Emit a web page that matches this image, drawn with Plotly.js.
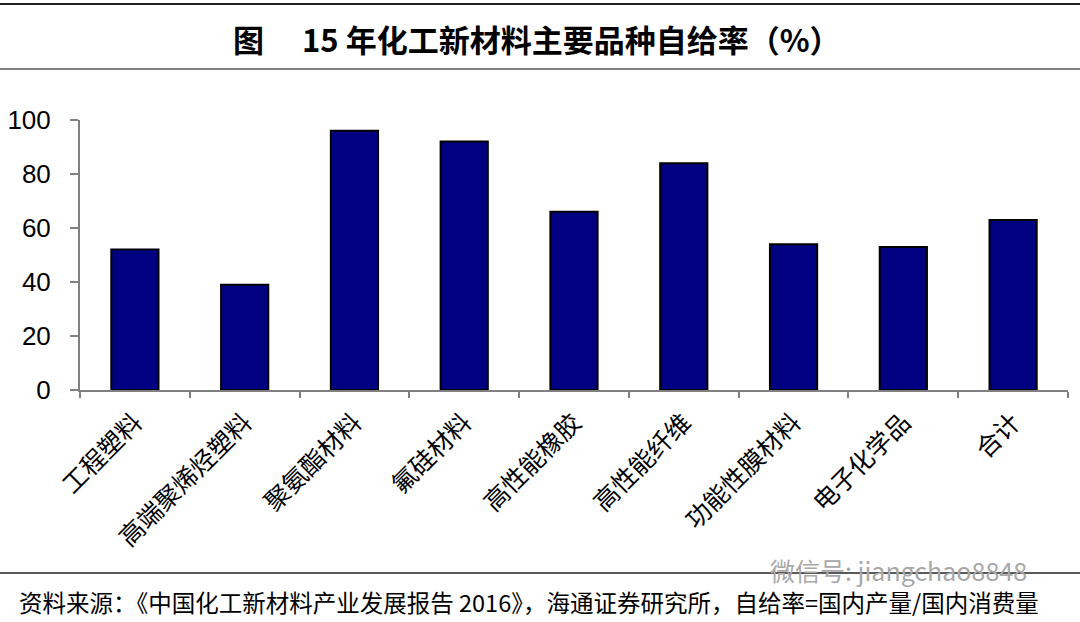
<!DOCTYPE html>
<html>
<head>
<meta charset="utf-8">
<script src="https://cdn.plot.ly/plotly-3.0.1.min.js"></script>
<style>html,body{margin:0;padding:0;background:#fff;}#chart{width:1080px;height:622px;}</style>
</head>
<body>
<div id="chart"></div>
<script>
const categories = ["工程塑料", "高端聚烯烃塑料", "聚氨酯材料", "氟硅材料", "高性能橡胶", "高性能纤维", "功能性膜材料", "电子化学品", "合计"];
const selfSufficiency = [52, 39, 96, 92, 66, 84, 54, 53, 63];
const yTicks = [0, 20, 40, 60, 80, 100];

const titleText = "<b>图　 15 年化工新材料主要品种自给率（%）</b>";
const sourceText = "资料来源：《中国化工新材料产业发展报告 2016》，海通证券研究所，自给率=国内产量/国内消费量";
const watermark = "微信号: jiangchao8848";

const cjk = '"Noto Sans CJK SC", "Liberation Sans", Arial, sans-serif';
const latin = '"Liberation Sans", Arial, sans-serif';

const data = [{
  type: "bar",
  x: categories,
  y: selfSufficiency,
  marker: { color: "#000080", line: { color: "#000000", width: 2 } },
  width: 0.43,
  hoverinfo: "x+y"
}];

const layout = {
  width: 1080,
  height: 622,
  margin: { l: 80, r: 12, t: 120, b: 232 },
  paper_bgcolor: "#ffffff",
  plot_bgcolor: "#ffffff",
  showlegend: false,
  xaxis: {
    type: "category",
    tickangle: -45,
    tickfont: { family: cjk, size: 25, color: "#000000" },
    ticklabelstandoff: 6,
    showline: true, linecolor: "#808080", linewidth: 2,
    ticks: "outside", ticklen: 6, tickcolor: "#808080", tickwidth: 2,
    tickson: "boundaries",
    showgrid: false, zeroline: false,
    fixedrange: true
  },
  yaxis: {
    range: [0, 100],
    tickvals: yTicks,
    ticktext: yTicks.map(String),
    tickfont: { family: latin, size: 26, color: "#000000" },
    ticklabelstandoff: 14,
    showline: true, linecolor: "#808080", linewidth: 2,
    ticks: "outside", ticklen: 8, tickcolor: "#808080", tickwidth: 2,
    showgrid: false, zeroline: false,
    fixedrange: true
  },
  shapes: [
    { type: "line", xref: "paper", yref: "paper", x0: -80/988, x1: 1 + 12/988, y0: 1 + 116/270, y1: 1 + 116/270, line: { color: "#222222", width: 2 } },
    { type: "line", xref: "paper", yref: "paper", x0: -80/988, x1: 1 + 12/988, y0: 1 + 51/270, y1: 1 + 51/270, line: { color: "#808080", width: 2 } },
    { type: "line", xref: "paper", yref: "paper", x0: -80/988, x1: 1 + 12/988, y0: -183/270, y1: -183/270, line: { color: "#222222", width: 1.5 } }
  ],
  annotations: [
    { text: titleText, xref: "paper", yref: "paper", x: 457/988, y: 1 + 81/270, xanchor: "center", yanchor: "middle", showarrow: false, font: { family: cjk, size: 31, color: "#000000" } },
    { text: sourceText, xref: "paper", yref: "paper", x: -63/988, y: -212/270, xanchor: "left", yanchor: "middle", showarrow: false, font: { family: cjk, size: 23.5, color: "#000000" } },
    { text: watermark, xref: "paper", yref: "paper", x: 688/988, y: -180/270, xanchor: "left", yanchor: "middle", showarrow: false, font: { family: cjk, size: 25, color: "#a8a8a8" } }
  ]
};

Plotly.newPlot("chart", data, layout, { displayModeBar: false, staticPlot: true });
</script>
</body>
</html>
